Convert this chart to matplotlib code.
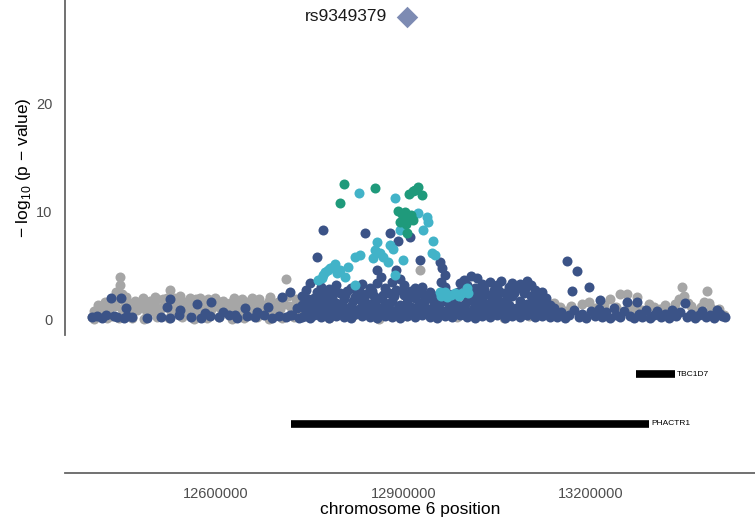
import numpy as np
import matplotlib.pyplot as plt

plt.rcParams['font.family'] = ['Liberation Sans', 'DejaVu Sans']
plt.rcParams['mathtext.fontset'] = 'custom'
plt.rcParams['mathtext.rm'] = 'Liberation Sans'

# (position in kb, -log10 p) for each LD class
grey_snps = [
    (12402, 0.3), (12405, 0.1), (12408, 0.6), (12414, 0.9), (12420, 1.2), (12425, 0.2),
    (12426, 0.5), (12432, 1.6), (12436, 2.0), (12440, 2.6), (12444, 1.9), (12445, 0.15),
    (12446, 3.2), (12447, 4.0), (12450, 2.4), (12454, 1.5), (12458, 1.1), (12462, 0.7),
    (12465, 0.2), (12468, 1.3), (12474, 0.9), (12480, 1.6), (12485, 0.1), (12486, 1.2),
    (12490, 0.5), (12494, 1.8), (12500, 1.4), (12505, 0.25), (12506, 1.9), (12512, 1.1),
    (12518, 1.6), (12522, 2.0), (12525, 0.15), (12526, 2.8), (12530, 1.5), (12536, 1.0),
    (12540, 1.8), (12545, 0.3), (12546, 1.3), (12552, 0.8), (12556, 1.7), (12562, 1.2),
    (12565, 0.1), (12568, 1.9), (12572, 1.5), (12578, 1.0), (12584, 1.6), (12585, 0.2),
    (12590, 0.7), (12596, 1.3), (12602, 1.8), (12605, 0.3), (12608, 1.0), (12614, 1.4),
    (12620, 0.6), (12625, 0.1), (12626, 1.2), (12632, 1.7), (12638, 0.9), (12642, 1.9),
    (12645, 0.2), (12648, 1.3), (12654, 0.5), (12660, 1.1), (12665, 0.3), (12666, 1.6),
    (12672, 0.8), (12678, 1.2), (12684, 1.8), (12685, 0.1), (12690, 0.6), (12696, 1.4),
    (12702, 1.0), (12705, 0.2), (12706, 2.0), (12712, 3.8), (12718, 1.3), (12724, 0.7),
    (12725, 0.3), (12730, 1.5), (12740, 0.9), (12750, 0.3),
    # extra fill on the left flank
    (12404, 0.8), (12411, 1.4), (12417, 0.7), (12423, 1.7), (12429, 1.0), (12434, 0.4),
    (12438, 1.3), (12443, 2.3), (12449, 1.0), (12452, 1.9), (12456, 2.1), (12460, 1.6),
    (12471, 1.8), (12477, 1.2), (12483, 2.0), (12488, 0.9), (12497, 0.8), (12503, 2.1),
    (12509, 0.7), (12515, 1.9), (12520, 1.2), (12528, 0.8), (12533, 2.0), (12538, 1.4),
    (12543, 2.2), (12549, 1.7), (12554, 1.1), (12559, 2.0), (12564, 1.5), (12570, 0.8),
    (12575, 2.0), (12581, 1.4), (12587, 1.9), (12593, 1.1), (12599, 2.0), (12611, 1.8),
    (12617, 1.1), (12623, 1.6), (12629, 2.0), (12635, 1.3), (12640, 0.6), (12651, 1.7),
    (12657, 2.0), (12663, 1.4), (12669, 1.9), (12675, 1.4), (12681, 0.9), (12687, 2.1),
    (12693, 1.1), (12699, 1.7), (12709, 1.5), (12715, 2.2), (12721, 1.1), (12728, 1.9),
    (12735, 1.2), (12745, 1.6),
    # under the peak and right flank
    (12780, 0.2), (12820, 0.5), (12860, 0.1), (12905, 0.4), (12926, 4.6), (12945, 0.8),
    (12985, 0.3), (13020, 0.6), (13060, 0.2), (13100, 0.4), (13130, 1.0), (13140, 1.6),
    (13150, 1.2), (13160, 0.8), (13186, 1.5), (13196, 1.7), (13206, 1.1), (13230, 1.9),
    (13246, 2.4), (13258, 2.4), (13270, 1.4), (13274, 2.1), (13282, 0.9), (13300, 1.2),
    (13318, 1.4), (13334, 1.5), (13346, 3.1), (13348, 2.2), (13355, 1.6), (13366, 0.8),
    (13376, 1.2), (13386, 2.7), (13388, 1.6), (13396, 0.6), (13404, 1.0), (13412, 0.5),
    (13144, 0.9), (13168, 1.3), (13220, 1.4), (13240, 1.2), (13264, 1.0), (13292, 1.5),
    (13310, 1.0), (13326, 0.8), (13340, 1.9), (13360, 1.3), (13380, 1.7), (13392, 1.1),
]

blue_snps = [
    # left flank
    (12402, 0.3), (12410, 0.4), (12418, 0.2), (12424, 0.5), (12432, 2.0), (12436, 0.4),
    (12442, 0.3), (12448, 2.0), (12452, 0.2), (12456, 1.1), (12458, 0.4), (12466, 0.3),
    (12490, 0.2), (12512, 0.3), (12522, 1.2), (12526, 0.2), (12526, 1.9), (12540, 0.5),
    (12542, 0.9), (12560, 0.3), (12570, 1.5), (12576, 0.2), (12582, 0.65), (12590, 0.4),
    (12592, 1.7), (12604, 0.3), (12611, 0.74), (12620, 0.5), (12630, 0.46), (12634, 0.2),
    (12646, 1.1), (12650, 0.4), (12662, 0.3), (12666, 0.74), (12676, 0.5), (12683, 1.2),
    (12690, 0.2), (12700, 0.4), (12706, 2.1), (12712, 0.3), (12718, 2.6), (12718, 0.46),
    (12722, 0.5), (12730, 1.1), (12732, 0.2), (12744, 0.4),
    # central block
    (12738, 0.3), (12738, 1.4), (12738, 2.2), (12744, 0.8), (12744, 2.8), (12750, 0.2),
    (12750, 1.6), (12750, 3.4), (12756, 0.5), (12756, 2.0), (12762, 1.0), (12762, 2.6),
    (12762, 5.8), (12768, 0.3), (12768, 1.7), (12768, 3.1), (12771, 8.3), (12774, 0.7),
    (12774, 2.3), (12780, 0.2), (12780, 1.4), (12780, 2.9), (12786, 0.9), (12786, 2.0),
    (12792, 0.4), (12792, 1.6), (12792, 3.2), (12798, 1.1), (12798, 2.5), (12804, 0.3),
    (12804, 1.9), (12810, 0.8), (12810, 2.7), (12816, 0.2), (12816, 1.3), (12816, 3.0),
    (12822, 0.6), (12822, 2.1), (12828, 1.0), (12828, 2.8), (12834, 0.4), (12834, 1.7),
    (12834, 3.3), (12838, 8.1), (12840, 0.9), (12840, 2.4), (12846, 0.3), (12846, 1.5),
    (12846, 3.0), (12852, 0.7), (12852, 2.2), (12858, 0.2), (12858, 1.2), (12858, 3.4),
    (12858, 4.6), (12864, 0.8), (12864, 2.0), (12864, 4.0), (12870, 0.4), (12870, 1.6),
    (12870, 3.0), (12876, 1.1), (12876, 2.5), (12878, 8.1), (12882, 0.3), (12882, 1.8),
    (12882, 3.5), (12888, 0.7), (12888, 2.8), (12888, 4.6), (12891, 7.3), (12894, 0.2),
    (12894, 1.4), (12894, 3.8), (12900, 0.9), (12900, 2.3), (12900, 3.2), (12906, 0.4),
    (12906, 1.7), (12910, 7.7), (12912, 1.2), (12912, 2.7), (12918, 0.3), (12918, 2.0),
    (12918, 3.0), (12924, 0.8), (12924, 1.6), (12926, 5.6), (12930, 0.5), (12930, 2.4),
    (12930, 3.1), (12936, 1.0), (12936, 1.9), (12942, 0.3), (12942, 2.6), (12948, 0.7),
    (12948, 1.5), (12948, 2.2), (12954, 0.2), (12954, 1.2), (12954, 2.0), (12958, 5.4),
    (12960, 0.9), (12960, 3.5), (12962, 4.8), (12966, 0.4), (12966, 1.8), (12966, 3.1),
    (12966, 4.2), (12972, 1.1), (12972, 2.4), (12978, 0.3), (12978, 1.6), (12978, 2.1),
    (12984, 0.8), (12984, 2.0), (12990, 0.5), (12990, 1.3), (12990, 3.4), (12996, 1.0),
    (12996, 2.6), (12996, 3.7), (13002, 0.3), (13002, 1.8), (13002, 3.2), (13008, 0.7),
    (13008, 2.2), (13008, 4.1), (13014, 0.2), (13014, 1.5), (13014, 3.0), (13018, 3.9),
    (13020, 0.9), (13020, 2.7), (13026, 0.4), (13026, 1.9), (13026, 3.3), (13032, 1.2),
    (13032, 2.4), (13038, 0.3), (13038, 1.6), (13038, 3.5), (13044, 0.8), (13044, 2.8),
    (13050, 0.5), (13050, 2.1), (13050, 3.2), (13056, 1.0), (13056, 1.7), (13056, 3.6),
    (13062, 0.2), (13062, 2.5), (13068, 0.7), (13068, 1.4), (13068, 3.1), (13074, 0.4),
    (13074, 2.2), (13074, 3.4), (13080, 1.1), (13080, 2.9), (13086, 0.3), (13086, 1.8),
    (13086, 3.3), (13092, 0.8), (13092, 2.5), (13098, 0.5), (13098, 1.5), (13098, 3.6),
    (13104, 1.0), (13104, 2.2), (13104, 3.2), (13110, 0.3), (13110, 1.9), (13110, 2.8),
    (13116, 0.7), (13116, 2.4), (13122, 0.4), (13122, 1.6), (13122, 2.6), (13128, 0.9),
    (13128, 2.0), (13134, 0.3), (13134, 1.4), (13140, 0.6), (13140, 1.1),
    # second layer to fill the block
    (12741, 1.1), (12747, 1.9), (12753, 0.9), (12759, 1.4), (12765, 2.1), (12771, 1.2),
    (12777, 1.7), (12783, 0.6), (12789, 2.6), (12795, 0.8), (12801, 1.4), (12807, 2.3),
    (12813, 0.5), (12819, 1.8), (12825, 2.5), (12831, 0.7), (12837, 2.0), (12843, 1.2),
    (12849, 2.7), (12855, 1.6), (12861, 0.5), (12867, 2.3), (12873, 1.3), (12879, 0.6),
    (12885, 2.2), (12891, 1.1), (12897, 2.7), (12903, 1.4), (12909, 2.3), (12915, 0.7),
    (12921, 2.5), (12927, 1.3), (12933, 1.7), (12939, 1.0), (12945, 2.0), (12951, 0.5),
    (12957, 1.6), (12963, 2.5), (12969, 0.8), (12975, 1.9), (12981, 1.2), (12987, 2.6),
    (12993, 0.6), (12999, 1.5), (13005, 2.6), (13011, 1.0), (13017, 2.1), (13023, 1.3),
    (13029, 2.9), (13035, 0.8), (13041, 2.0), (13047, 1.3), (13053, 2.7), (13059, 0.9),
    (13065, 2.0), (13071, 1.0), (13077, 2.5), (13083, 0.6), (13089, 1.5), (13095, 2.9),
    (13101, 0.8), (13107, 1.5), (13113, 2.3), (13119, 1.2), (13125, 2.0), (13131, 0.7),
    # right flank
    (13146, 0.3), (13152, 0.7), (13158, 0.2), (13162, 5.5), (13164, 0.5), (13170, 2.7),
    (13172, 0.9), (13178, 4.5), (13180, 0.3), (13186, 0.6), (13192, 0.2), (13197, 3.1),
    (13200, 0.8), (13206, 0.4), (13212, 1.0), (13214, 1.85), (13218, 0.3), (13224, 0.7),
    (13230, 0.2), (13236, 1.1), (13240, 0.5), (13246, 0.3), (13252, 0.8), (13258, 1.7),
    (13262, 0.4), (13268, 0.2), (13274, 1.7), (13276, 0.6), (13282, 0.3), (13288, 0.9),
    (13294, 0.2), (13300, 0.5), (13306, 0.8), (13312, 0.3), (13318, 0.6), (13324, 0.2),
    (13330, 0.9), (13336, 0.4), (13342, 0.7), (13350, 1.6), (13354, 0.3), (13360, 0.6),
    (13366, 0.2), (13372, 0.5), (13378, 0.8), (13384, 0.3), (13390, 0.5), (13396, 0.2),
    (13402, 0.9), (13406, 0.6), (13410, 0.4), (13414, 0.3),
]

cyan_snps = [
    (12829, 11.8), (12886, 11.3), (12923, 9.9), (12938, 9.5), (12939, 9.1), (12931, 8.3),
    (12894, 8.3), (12947, 7.3), (12858, 7.2), (12878, 6.9), (12883, 6.6), (12854, 6.5),
    (12862, 6.2), (12851, 5.7), (12867, 5.8), (12875, 5.4), (12899, 5.6), (12822, 5.8),
    (12830, 6.0), (12811, 4.9), (12787, 4.9), (12779, 4.6), (12794, 4.35), (12771, 4.2),
    (12770, 3.9), (12806, 4.0), (12822, 3.2), (12886, 4.2), (12946, 6.2), (12950, 6.0),
    (12958, 2.6), (12966, 2.6), (12970, 2.1), (12982, 2.5), (12994, 2.5), (13002, 3.0),
    (13003, 2.5), (12782, 4.8), (12798, 4.6), (12790, 5.2), (12775, 4.4), (12763, 3.7),
    (12960, 2.2), (12976, 2.3), (12988, 2.2),
]

green_snps = [
    (12805, 12.6), (12854, 12.2), (12798, 10.8), (12915, 11.9), (12923, 12.3), (12918, 12.0),
    (12930, 11.6), (12909, 11.7), (12891, 10.1), (12898, 9.8), (12902, 10.0), (12907, 9.4),
    (12912, 9.7), (12894, 9.1), (12904, 8.9), (12906, 8.1), (12915, 9.3), (12899, 9.35),
]

lead_snp = 'rs9349379'
lead_pos_kb = 12905.6
lead_logp = 28.1

genes = ['TBC1D7', 'PHACTR1']
gene_start_kb = [13272.0, 12720.0]
gene_end_kb = [13334.4, 13292.8]
gene_row = [2, 1]

xticks = [12600000, 12900000, 13200000]

fig = plt.figure(figsize=(7.55, 5.25), dpi=100)
W, H = 755, 525
ax = fig.add_axes([65 / W, (H - 335) / H, 1 - 65 / W, 335 / H])
gx = fig.add_axes([65 / W, (H - 473) / H, 1 - 65 / W, 133 / H])

xlim = (12358400, 13462400)

def scatter_group(snps, colour, z):
    pos, lp = zip(*snps)
    ax.scatter(np.array(pos) * 1000, lp, s=52, color=colour, linewidths=0, zorder=z)

scatter_group(grey_snps, '#a6a6a6', 2)
scatter_group(blue_snps, '#3b5387', 3)
scatter_group(cyan_snps, '#42b3c8', 4)
scatter_group(green_snps, '#1f9a7b', 5)
ax.scatter([lead_pos_kb * 1000], [lead_logp], marker='D', s=120, color='#7d8bb3',
           linewidths=0, zorder=6)
ax.annotate(lead_snp, (lead_pos_kb * 1000, lead_logp), xytext=(-14, 0),
            textcoords='offset points', ha='right', va='center', fontsize=12.5, color='#1a1a1a')

ax.set_xlim(*xlim)
ax.set_ylim(-1.39, 29.63)
ax.set_yticks([0, 10, 20])
ax.tick_params(axis='y', length=0, pad=9, labelsize=10.5, labelcolor='#4d4d4d')
ax.set_xticks([])
for s in ['top', 'right', 'bottom']:
    ax.spines[s].set_visible(False)
ax.spines['left'].set_color('#666666')
ax.spines['left'].set_linewidth(1.3)
ax.set_ylabel('− log$_{10}$ (p − value)', fontsize=12.5, labelpad=2)

# gene track
for name, a, b, r in zip(genes, gene_start_kb, gene_end_kb, gene_row):
    gx.plot([a * 1000, b * 1000], [r, r], color='black', linewidth=5.5, solid_capstyle='butt')
    gx.text(b * 1000 + 3000, r, name, fontsize=6, va='center', ha='left')
gx.set_xlim(*xlim)
gx.set_ylim(0, 2.7)
gx.set_yticks([])
gx.set_xticks(xticks)
gx.set_xticklabels([str(t) for t in xticks])
gx.tick_params(axis='x', length=0, pad=10, labelsize=10.5, labelcolor='#4d4d4d')
for s in ['top', 'right', 'left']:
    gx.spines[s].set_visible(False)
gx.spines['bottom'].set_color('#666666')
gx.spines['bottom'].set_linewidth(1.3)
gx.set_xlabel('chromosome 6 position', fontsize=12.5, labelpad=1)
gx.patch.set_alpha(0)

fig.savefig('out.png', dpi=100)
